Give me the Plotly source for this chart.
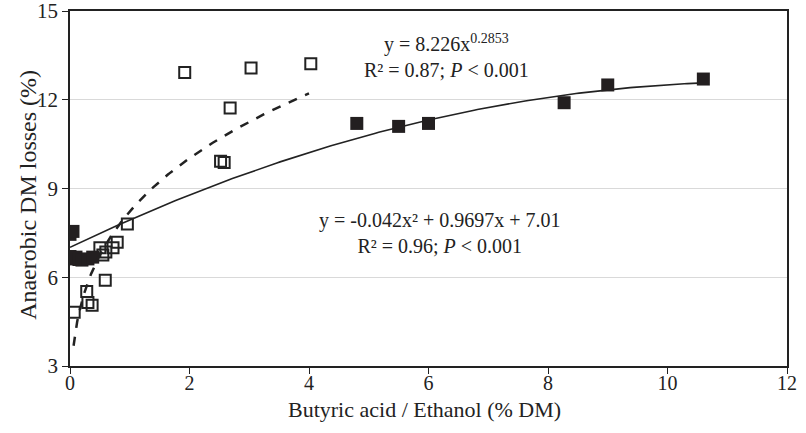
import numpy as np
import plotly.graph_objects as go

# Filled squares (butyric acid)
butyric_x = [0.0, 0.05, 0.0, 0.05, 0.1, 0.15, 0.2, 0.3, 0.38, 4.8, 5.5, 6.0, 8.27, 9.0, 10.6]
butyric_y = [7.45, 7.55, 6.7, 6.62, 6.68, 6.6, 6.58, 6.62, 6.68, 11.2, 11.1, 11.2, 11.9, 12.5, 12.7]

# Open squares (ethanol)
ethanol_x = [0.07, 0.28, 0.3, 0.37, 0.59, 0.5, 0.55, 0.6, 0.72, 0.79, 0.96, 2.52, 2.58, 2.68, 1.92, 3.03, 4.03]
ethanol_y = [4.82, 5.52, 5.15, 5.05, 5.9, 7.0, 6.75, 6.85, 7.0, 7.18, 7.8, 9.92, 9.88, 11.72, 12.92, 13.07, 13.22]

# Fitted trend lines (from the equations printed on the chart)
quad_coef = [-0.042, 0.9697, 7.01]
quad_range = [0.0, 10.6]
pow_coef = [8.226, 0.2853]
pow_range = [0.06, 4.0]

qx = np.linspace(quad_range[0], quad_range[1], 200)
qy = quad_coef[0] * qx**2 + quad_coef[1] * qx + quad_coef[2]
px = np.linspace(pow_range[0], pow_range[1], 200)
py = pow_coef[0] * px ** pow_coef[1]

font = "Liberation Serif, Times New Roman, serif"
ink = "#222222"

fig = go.Figure()
fig.add_trace(go.Scatter(x=px, y=py, mode="lines",
                         line=dict(color=ink, width=2.5, dash="dash"),
                         hoverinfo="skip", showlegend=False))
fig.add_trace(go.Scatter(x=qx, y=qy, mode="lines",
                         line=dict(color=ink, width=1.6),
                         hoverinfo="skip", showlegend=False))
fig.add_trace(go.Scatter(x=ethanol_x, y=ethanol_y, mode="markers",
                         marker=dict(symbol="square-open", size=11, color=ink,
                                     line=dict(width=2, color=ink)),
                         showlegend=False))
fig.add_trace(go.Scatter(x=butyric_x, y=butyric_y, mode="markers",
                         marker=dict(symbol="square", size=13, color="#231f20",
                                     line=dict(width=0)),
                         showlegend=False))

ann_font = dict(family=font, size=20, color=ink)
fig.add_annotation(x=6.3, y=13.48, xref="x", yref="y",
                   text="y = 8.226x<sup>0.2853</sup><br>R² = 0.87; <i>P</i> < 0.001",
                   showarrow=False, align="center",
                   xanchor="center", yanchor="middle", font=ann_font)
fig.add_annotation(x=6.19, y=7.48, xref="x", yref="y",
                   text="y = -0.042x² + 0.9697x + 7.01<br>R² = 0.96; <i>P</i> < 0.001",
                   showarrow=False, align="center",
                   xanchor="center", yanchor="middle", font=ann_font)

# axis titles placed as annotations to match the reference positions
fig.add_annotation(x=-0.0586, y=0.482, xref="paper", yref="paper",
                   text="Anaerobic DM losses (%)", textangle=-90, showarrow=False,
                   xanchor="center", yanchor="middle",
                   font=dict(family=font, size=24, color=ink))
fig.add_annotation(x=0.495, y=-0.122, xref="paper", yref="paper",
                   text="Butyric acid / Ethanol (% DM)", showarrow=False,
                   xanchor="center", yanchor="middle",
                   font=dict(family=font, size=22, color=ink))

fig.update_layout(
    width=806, height=433,
    margin=dict(l=70, r=19, t=11, b=67),
    paper_bgcolor="white", plot_bgcolor="white",
    font=dict(family=font, size=21, color=ink),
    xaxis=dict(range=[0, 12], dtick=2, tick0=0, showgrid=False, zeroline=False,
               showline=True, linecolor=ink, linewidth=1.5, mirror=True,
               ticks="outside", ticklen=6, tickcolor=ink, automargin=False,
               ticklabelstandoff=-8, ticklabeloverflow="allow",
               tickfont=dict(family=font, size=20)),
    yaxis=dict(range=[3, 15], dtick=3, tick0=3, showgrid=True, gridcolor="#d9d9d9",
               zeroline=False, showline=True, linecolor=ink, linewidth=1.5,
               mirror=True, ticks="outside", ticklen=6, tickcolor=ink,
               automargin=False, ticklabeloverflow="allow",
               tickfont=dict(family=font, size=21)),
)

fig.write_html("out.html")
